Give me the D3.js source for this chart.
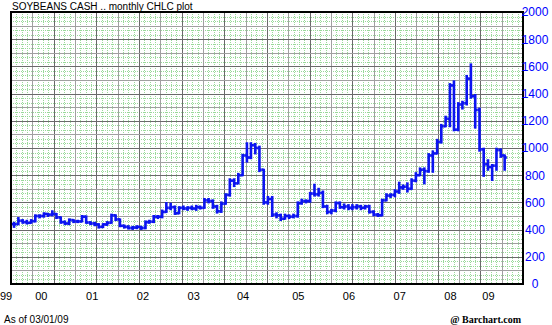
<!DOCTYPE html>
<html>
<head>
<meta charset="utf-8">
<script src="https://cdn.jsdelivr.net/npm/d3@7"></script>
<style>
	body { margin: 0; background: #fff; }
	svg text { font-family: "Liberation Sans", Arial, sans-serif; }
</style>
</head>
<body>
<div id="chart"></div>
<script>

// monthly bars, July 1999 .. March 2009 (cents / bushel)
var startMonth = "1999-07";
var highs = [450, 485, 470, 465, 470, 505,
	505, 520, 515, 535, 515, 490, 460, 475, 470, 465, 500, 497,
	455, 450, 440, 440, 455, 510, 505, 475, 430, 425, 420, 425,
	420, 460, 465, 500, 500, 540, 595, 590, 570, 565, 570, 565,
	570, 575, 570, 625, 625, 615, 575, 600, 660, 770, 770, 810,
	950, 1035, 1035, 1030, 1010, 840, 640, 640, 520, 510, 510, 505,
	510, 600, 620, 615, 670, 730, 700, 680, 575, 545, 600, 600,
	585, 580, 580, 580, 575, 575, 575, 535, 515, 620, 660, 660,
	690, 745, 725, 740, 770, 815, 850, 850, 955, 975, 1060, 1170,
	1230, 1470, 1490, 1330, 1340, 1530, 1615, 1390, 1290, 995, 910, 875,
	995, 990, 945];
var lows = [420, 440, 450, 445, 450, 460,
	490, 495, 500, 505, 485, 450, 440, 440, 455, 455, 460, 450,
	440, 432, 415, 418, 435, 450, 470, 425, 415, 408, 405, 410,
	405, 410, 450, 455, 485, 490, 530, 550, 515, 520, 550, 545,
	550, 545, 555, 560, 600, 560, 525, 530, 590, 650, 720, 740,
	800, 900, 925, 960, 830, 590, 590, 500, 490, 470, 480, 485,
	490, 495, 590, 600, 605, 650, 650, 565, 520, 520, 535, 560,
	555, 550, 550, 555, 550, 555, 525, 505, 500, 505, 615, 640,
	645, 670, 700, 680, 700, 755, 800, 740, 825, 825, 960, 1040,
	1160, 1160, 1130, 1130, 1290, 1320, 1370, 1150, 980, 795, 840, 765,
	840, 935, 840];
var closes = [440, 465, 455, 450, 462, 500,
	500, 515, 510, 515, 490, 455, 445, 470, 460, 460, 495, 452,
	445, 438, 420, 438, 450, 505, 475, 428, 420, 412, 415, 420,
	412, 455, 458, 495, 495, 530, 560, 565, 520, 560, 555, 560,
	555, 565, 560, 615, 610, 570, 535, 590, 655, 760, 740, 800,
	945, 930, 1020, 1000, 840, 600, 625, 510, 505, 480, 500, 495,
	500, 595, 610, 610, 665, 660, 670, 570, 530, 540, 595, 565,
	570, 560, 565, 570, 560, 570, 530, 510, 505, 615, 650, 655,
	680, 710, 715, 700, 760, 800, 840, 830, 945, 960, 1045, 1160,
	1215, 1460, 1135, 1320, 1330, 1510, 1380, 1280, 990, 880, 860, 870,
	985, 945, 930];

var yTicks = [0, 200, 400, 600, 800, 1000, 1200, 1400, 1600, 1800, 2000];
var xTickLabels = ["99", "00", "01", "02", "03", "04", "05", "06", "07", "08", "09"];
var xTickDates = ["1999-05-01", "2000-01-10", "2001-01-10", "2002-01-10", "2003-01-10",
	"2004-01-01", "2005-02-01", "2006-02-01", "2007-02-01", "2008-02-01", "2008-11-01"];

(function() {

	var parse = d3.timeParse("%Y-%m-%d");
	var first = d3.timeParse("%Y-%m")(startMonth);

	var bars = closes.map(function(c, i) {
		return {
			date: d3.timeMonth.offset(first, i),
			open: i > 0 ? closes[i - 1] : c,
			high: highs[i],
			low: lows[i],
			close: c
		};
	});

	var width = 552, height = 325;
	var pLeft = 11, pRight = 523, pTop = 12, pBottom = 284;

	var svg = d3.select('#chart').append('svg')
		.attr('width', width)
		.attr('height', height);

	var x = d3.scaleTime()
		.domain([new Date(1999, 5, 9), new Date(2009, 6, 11)])
		.range([pLeft, pRight]);

	var y = d3.scaleLinear()
		.domain([0, 2000])
		.range([pBottom, pTop]);

	// fine green dotted grid
	var grid = svg.append('g').attr('shape-rendering', 'crispEdges');
	var colW = (pRight - pLeft) / 24;

	grid.selectAll('.gv').data(d3.range(1, 96))
		.enter().append('line')
		.attr('x1', function(k) { return Math.round(pLeft + k * colW / 4) + 0.5; })
		.attr('x2', function(k) { return Math.round(pLeft + k * colW / 4) + 0.5; })
		.attr('y1', pTop).attr('y2', pBottom)
		.style('stroke', '#9ad99a')
		.style('stroke-dasharray', '1,1');

	grid.selectAll('.gh').data(d3.range(1, 60))
		.enter().append('line')
		.attr('x1', pLeft).attr('x2', pRight)
		.attr('y1', function(k) { return Math.round(y(k * 100 / 3)) + 0.5; })
		.attr('y2', function(k) { return Math.round(y(k * 100 / 3)) + 0.5; })
		.style('stroke', '#9ad99a')
		.style('stroke-dasharray', '1,1');

	// gray lines
	grid.selectAll('.vv').data(d3.range(1, 24))
		.enter().append('line')
		.attr('x1', function(k) { return Math.round(pLeft + k * colW) + 0.5; })
		.attr('x2', function(k) { return Math.round(pLeft + k * colW) + 0.5; })
		.attr('y1', pTop).attr('y2', pBottom)
		.style('stroke', function(k) { return k % 2 ? '#a0a0a0' : '#6a6a6a'; });

	grid.selectAll('.hh').data(d3.range(100, 2000, 100))
		.enter().append('line')
		.attr('x1', pLeft).attr('x2', pRight)
		.attr('y1', function(v) { return Math.round(y(v)) + 0.5; })
		.attr('y2', function(v) { return Math.round(y(v)) + 0.5; })
		.style('stroke', function(v) { return v % 200 ? '#a0a0a0' : '#6a6a6a'; });

	// bars
	var plot = svg.append('g')
		.style('stroke', '#0c14f0')
		.style('stroke-width', 2.6);

	var g = plot.selectAll('.bar').data(bars)
		.enter().append('g');

	g.append('line')
		.attr('x1', function(d) { return x(d.date); })
		.attr('x2', function(d) { return x(d.date); })
		.attr('y1', function(d) { return y(d.high) - 1; })
		.attr('y2', function(d) { return y(d.low) + 1; });

	g.append('line')
		.attr('x1', function(d) { return x(d.date) - 2.2; })
		.attr('x2', function(d) { return x(d.date); })
		.attr('y1', function(d) { return y(d.open); })
		.attr('y2', function(d) { return y(d.open); });

	g.append('line')
		.attr('x1', function(d) { return x(d.date); })
		.attr('x2', function(d) { return x(d.date) + 2.2; })
		.attr('y1', function(d) { return y(d.close); })
		.attr('y2', function(d) { return y(d.close); });

	// frame
	svg.append('rect')
		.attr('x', pLeft).attr('y', pTop)
		.attr('width', pRight - pLeft).attr('height', pBottom - pTop)
		.style('fill', 'none')
		.style('stroke', '#000')
		.style('stroke-width', 2);

	// y axis labels on the right
	svg.append('g')
		.attr('transform', 'translate(' + pRight + ',0)')
		.call(d3.axisRight(y).tickValues(yTicks).tickSize(0).tickPadding(12)
			.tickFormat(d3.format("d")))
		.call(function(a) {
			a.select('.domain').remove();
			a.selectAll('text')
				.attr('text-anchor', 'middle')
				.style('font-family', '"Liberation Sans Narrow", "Liberation Sans", Arial, sans-serif')
				.style('font-size', '12px')
				.style('fill', '#0000ff');
		});

	// x axis labels
	var xLab = d3.scaleOrdinal().domain(xTickDates).range(xTickLabels);
	svg.append('g')
		.attr('transform', 'translate(0,' + pBottom + ')')
		.call(d3.axisBottom(x).tickValues(xTickDates.map(parse)).tickSize(0).tickPadding(8)
			.tickFormat(function(d) { return xLab(d3.timeFormat("%Y-%m-%d")(d)); }))
		.call(function(a) {
			a.select('.domain').remove();
			a.selectAll('text')
				.style('font-size', '11px')
				.style('fill', '#000');
		});

	svg.append('text')
		.attr('x', 12).attr('y', 10)
		.style('font-size', '10px')
		.text('SOYBEANS CASH .. monthly CHLC plot');

	svg.append('text')
		.attr('x', 4).attr('y', 323)
		.style('font-size', '10px')
		.text('As of 03/01/09');

	svg.append('text')
		.attr('x', 521).attr('y', 323)
		.attr('text-anchor', 'end')
		.style('font-family', '"Liberation Serif", "DejaVu Serif", serif')
		.style('font-weight', 'bold')
		.style('font-size', '10px')
		.text('@ Barchart.com');

})();

</script>
</body>
</html>
